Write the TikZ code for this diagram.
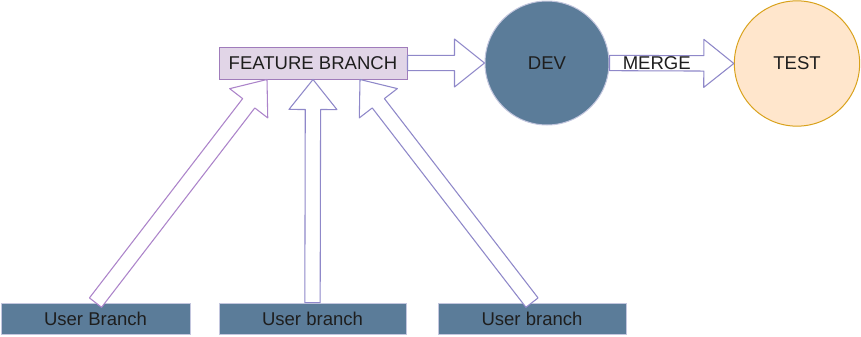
\documentclass[tikz,border=0pt]{standalone}
\usepackage{fontspec}
\setmainfont{Liberation Sans}
\usetikzlibrary{calc}

\definecolor{fbfill}{HTML}{E1D5E7}
\definecolor{fbrand}{HTML}{A07CBB}
\definecolor{devblau}{HTML}{5B7C99}
\definecolor{blaurand}{HTML}{C3C6DE}
\definecolor{testfill}{HTML}{FFE6CC}
\definecolor{testrand}{HTML}{D9A21C}
\definecolor{lila}{HTML}{AC84CA}
\definecolor{lavendel}{HTML}{8F88C9}
\definecolor{schrift}{HTML}{1E1E1E}

% Blockpfeil von #2 nach #3
\newcommand{\blockpfeil}[3][]{%
  \coordinate (bpA) at (#2);
  \coordinate (bpB) at (#3);
  \coordinate (bpH) at ($(bpB)!22.5pt!(bpA)$);
  \draw[pfeil,#1] ($(bpA)!5.75pt!90:(bpB)$) -- ($(bpH)!5.75pt!90:(bpB)$)
    -- ($(bpH)!18pt!90:(bpB)$) -- (bpB) -- ($(bpH)!18pt!-90:(bpB)$)
    -- ($(bpH)!5.75pt!-90:(bpB)$) -- ($(bpA)!5.75pt!-90:(bpB)$) -- cycle;
}

\begin{document}
\begin{tikzpicture}[x=0.75pt, y=-0.75pt, font=\fontsize{13.9}{16}\selectfont, text=schrift,
    pfeil/.style={draw=lavendel, fill=white, line width=0.8pt, line join=round},
    userbox/.style={draw=blaurand, fill=devblau, line width=0.6pt, minimum height=23.25pt, inner sep=0pt},
    kreis/.style={circle, line width=0.75pt, inner sep=0pt}]
        \useasboundingbox (0,0) rectangle (861,336);

        % Knoten
        \node[draw=fbrand, fill=fbfill, line width=0.75pt, minimum width=141pt, minimum height=24pt, inner sep=0pt]
        (fb) at (313,63) {FEATURE BRANCH};
        \node[kreis, draw=blaurand, fill=devblau, minimum size=93pt] (dev) at (547,63) {DEV};
        \node[kreis, draw=testrand, fill=testfill, minimum size=94pt] (test) at (797,63.5) {TEST};

        % User-Branches unten
        \node[userbox, minimum width=141.75pt] (u1) at (95.5,318.5) {User Branch};
        \node[userbox, minimum width=140.25pt] (u2) at (312.5,318.5) {User branch};
        \node[userbox, minimum width=141pt] (u3) at (532,318.5) {User branch};

        % Pfeile
        \blockpfeil[draw=lila]{u1.north}{[xshift=-34.5pt]fb.south}
        \blockpfeil{u2.north}{fb.south}
        \blockpfeil{u3.north}{[xshift=35.25pt]fb.south}
        \blockpfeil{fb.east}{dev.west}
        \blockpfeil{dev.east}{test.west}

        % Beschriftung
        \node[inner sep=0pt] (merge) at ($(dev.east)!0.38!(test.west)$) {MERGE};
    \end{tikzpicture}
\end{document}
